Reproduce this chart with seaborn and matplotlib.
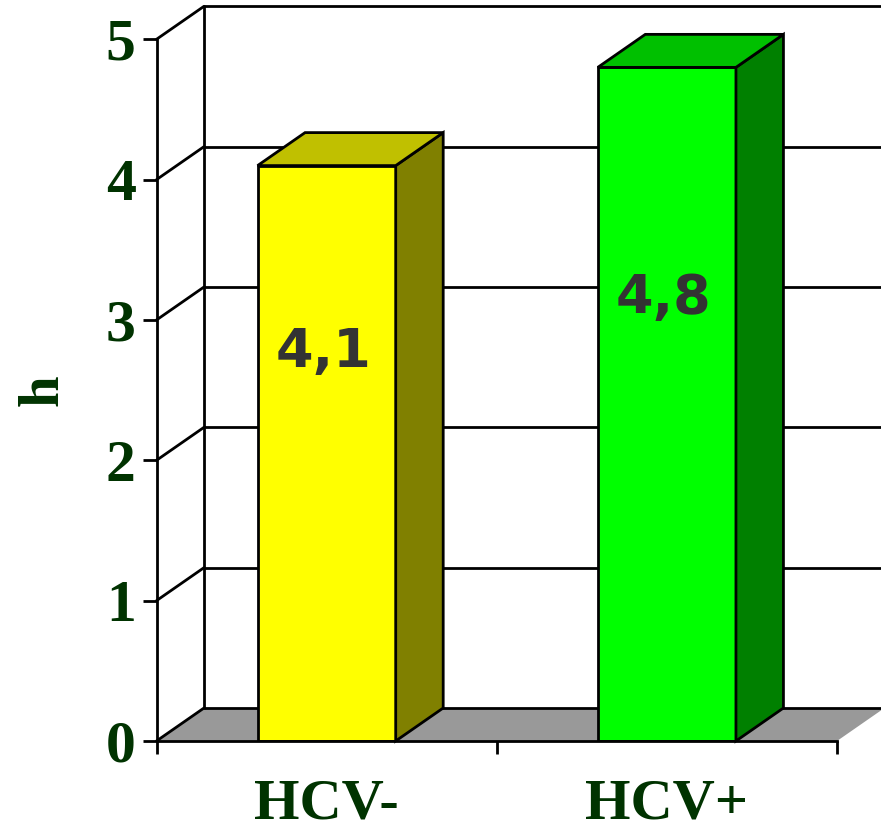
import matplotlib
matplotlib.use("Agg")
import matplotlib.pyplot as plt
from matplotlib.patches import Polygon
import seaborn as sns
import pandas as pd

# ---- data ----
categories = ["HCV-", "HCV+"]
values = [4.1, 4.8]
value_labels = ["4,1", "4,8"]
y_ticks = [0, 1, 2, 3, 4, 5]

# ---- style ----
front_colors = ["#FFFF00", "#00FF00"]
side_colors = ["#808000", "#008000"]
top_colors = ["#C0C000", "#00C000"]
text_green = "#003300"
floor_gray = "#999999"
lw = 2.0
bar_width = 0.406

sns.set_theme(style="white")
plt.rcParams["font.family"] = ["Liberation Serif", "DejaVu Serif"]

W, H = 881, 831
fig = plt.figure(figsize=(W / 100, H / 100), dpi=100)
ax_left, ax_right, ax_bottom, ax_top = 156.5, 837.0, 741.0, 39.3
ax = fig.add_axes([ax_left / W, (H - ax_bottom) / H,
                   (ax_right - ax_left) / W, (ax_bottom - ax_top) / H])
ax.set_xlim(-0.5, 1.5)
ax.set_ylim(0, 5)

# depth offset of the 3-D box, in data units
px_x = (ax_right - ax_left) / 2.0
px_y = (ax_bottom - ax_top) / 5.0
dx = 47.5 / px_x
dy = 33.0 / px_y

# back wall, left wall edges and gridlines
x0, x1 = -0.5, 1.5
for t in y_ticks:
    ax.plot([x0 + dx, x1 + dx + 0.2], [t + dy, t + dy], color="black", lw=lw,
            clip_on=False, zorder=0.5, solid_capstyle="butt")
    ax.plot([x0, x0 + dx], [t, t + dy], color="black", lw=lw,
            clip_on=False, zorder=0.5)
ax.plot([x0 + dx, x0 + dx], [dy, 5 + dy], color="black", lw=lw,
        clip_on=False, zorder=0.5)

# floor
floor = Polygon([(x0, 0), (x0 + dx, dy), (x1 + dx, dy), (x1, 0)],
                closed=True, facecolor=floor_gray, edgecolor="none",
                clip_on=False, zorder=0.4)
ax.add_patch(floor)

# front faces of the columns
df = pd.DataFrame({"group": categories, "h": values})
sns.barplot(data=df, x="group", y="h", hue="group", palette=front_colors,
            order=categories, hue_order=categories, width=bar_width,
            saturation=1, edgecolor="black", linewidth=lw, legend=False,
            ax=ax, zorder=2)
ax.set_xlim(-0.5, 1.5)
ax.set_ylim(0, 5)

# side and top faces
for i, v in enumerate(values):
    l, r = i - bar_width / 2, i + bar_width / 2
    side = Polygon([(r, 0), (r + dx, dy), (r + dx, v + dy), (r, v)],
                   closed=True, facecolor=side_colors[i], edgecolor="black",
                   lw=lw, joinstyle="miter", clip_on=False, zorder=2)
    top = Polygon([(l, v), (l + dx, v + dy), (r + dx, v + dy), (r, v)],
                  closed=True, facecolor=top_colors[i], edgecolor="black",
                  lw=lw, joinstyle="miter", clip_on=False, zorder=2)
    ax.add_patch(side)
    ax.add_patch(top)

# value labels on the columns
label_heights = [2.77, 3.16]
for i, (lab, yh) in enumerate(zip(value_labels, label_heights)):
    ax.text(i - 0.01, yh, lab, ha="center", va="center", fontsize=39,
            fontweight="bold", color="#333333",
            family=["DejaVu Sans"], zorder=3)

# axes
for s in ["top", "right"]:
    ax.spines[s].set_visible(False)
for s in ["left", "bottom"]:
    ax.spines[s].set_color("black")
    ax.spines[s].set_linewidth(lw)
    ax.spines[s].set_zorder(2.5)

ax.set_yticks(y_ticks)
ax.set_yticklabels([str(t) for t in y_ticks])
ax.tick_params(axis="y", direction="out", length=10, width=lw, color="black",
               pad=5, labelsize=43, labelcolor=text_green, left=True)
ax.set_xticks([0, 1])
ax.set_xticklabels(categories)
ax.set_xticks([-0.5, 0.5, 1.5], minor=True)
ax.tick_params(axis="x", which="major", length=0, pad=27, labelsize=42,
               labelcolor=text_green)
ax.tick_params(axis="x", which="minor", direction="out", length=9.5,
               width=lw, color="black", bottom=True)
for lab in ax.get_xticklabels() + ax.get_yticklabels():
    lab.set_fontweight("bold")

ax.set_xlabel("")
ax.set_ylabel("h", fontsize=41, fontweight="bold", color=text_green)
ax.yaxis.set_label_coords(-0.127, 0.5)
ax.grid(False)
ax.set_facecolor("white")
fig.patch.set_facecolor("white")

fig.savefig("out.png", dpi=100)
